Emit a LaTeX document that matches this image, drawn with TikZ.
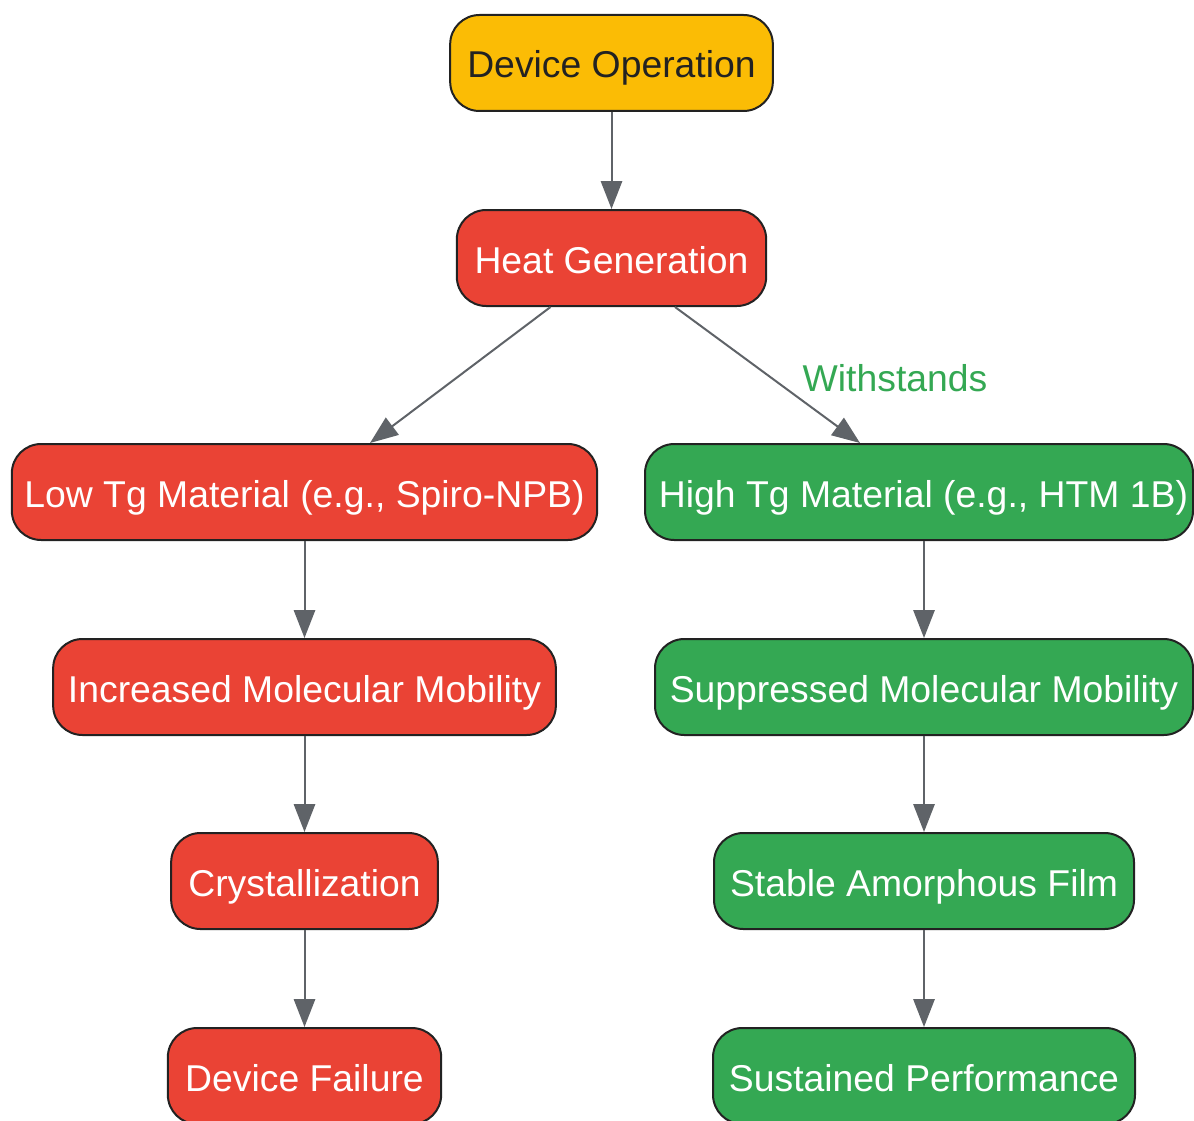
\documentclass[tikz,border=0pt]{standalone}
\usepackage{fontspec}
\setmainfont{Liberation Sans}
\usetikzlibrary{arrows.meta,calc}
\definecolor{cred}{HTML}{EA4335}
\definecolor{cgreen}{HTML}{34A853}
\definecolor{cyellow}{HTML}{FBBC05}
\definecolor{cborder}{HTML}{222222}
\definecolor{carrow}{HTML}{5F6368}
\definecolor{ctext}{HTML}{222222}
\tikzset{
  box/.style={draw=cborder, line width=1.5pt, rounded corners=22pt, minimum height=72pt, inner sep=0pt,
    font=\fontsize{28}{33}\selectfont, text=white, text height=25pt, text depth=2.5pt},
  redbox/.style={box, fill=cred},
  greenbox/.style={box, fill=cgreen},
  yellowbox/.style={box, fill=cyellow, text=ctext},
  conn/.style={draw=carrow, line width=1.5pt, -{Triangle[length=21pt,width=16pt]}},
  lbl/.style={font=\fontsize{28}{33}\selectfont, text=cgreen}
}
\begin{document}
\begin{tikzpicture}[x=0.75pt,y=-0.75pt]
\useasboundingbox (0,0) rectangle (1194,1120);
\node[yellowbox, minimum width=242pt] (op) at (611.5,63) {Device Operation};
\node[redbox, minimum width=232pt] (hg) at (611.5,258) {Heat Generation};
\node[redbox, minimum width=439pt] (low) at (304.5,492) {Low Tg Material (e.g., Spiro-NPB)};
\node[greenbox, minimum width=411pt] (high) at (919,492) {};
\node[text=white, font=\fontsize{28}{33}\selectfont, inner sep=0pt, text height=25pt, text depth=2.5pt] (hight) at (923.5,492) {High Tg Material (e.g., HTM 1B)};
\node[redbox, minimum width=377pt] (inc) at (304.5,687) {Increased Molecular Mobility};
\node[greenbox, minimum width=403.5pt] (sup) at (924,687) {Suppressed Molecular Mobility};
\node[redbox, minimum width=200pt] (cry) at (304.5,881) {Crystallization};
\node[greenbox, minimum width=315pt] (saf) at (924,881) {Stable Amorphous Film};
\node[redbox, minimum width=205pt] (fail) at (304.5,1076) {Device Failure};
\node[greenbox, minimum width=316.5pt] (perf) at (924,1076) {Sustained Performance};

\draw[conn] (op) -- (hg);
\draw[conn] ($(hg.south)+(-61,0)$) -- ($(low.north)+(65.5,0)$);
\draw[conn] ($(hg.south)+(63.5,0)$) -- ($(high.north)+(-59,0)$);
\node[lbl] (w) at (895,378) {Withstands};
\draw[conn] (low) -- (inc);
\draw[conn] (inc) -- (cry);
\draw[conn] (cry) -- (fail);
\draw[conn] (high.south -| sup.north) -- (sup.north);
\draw[conn] (sup) -- (saf);
\draw[conn] (saf) -- (perf);
\end{tikzpicture}
\end{document}
